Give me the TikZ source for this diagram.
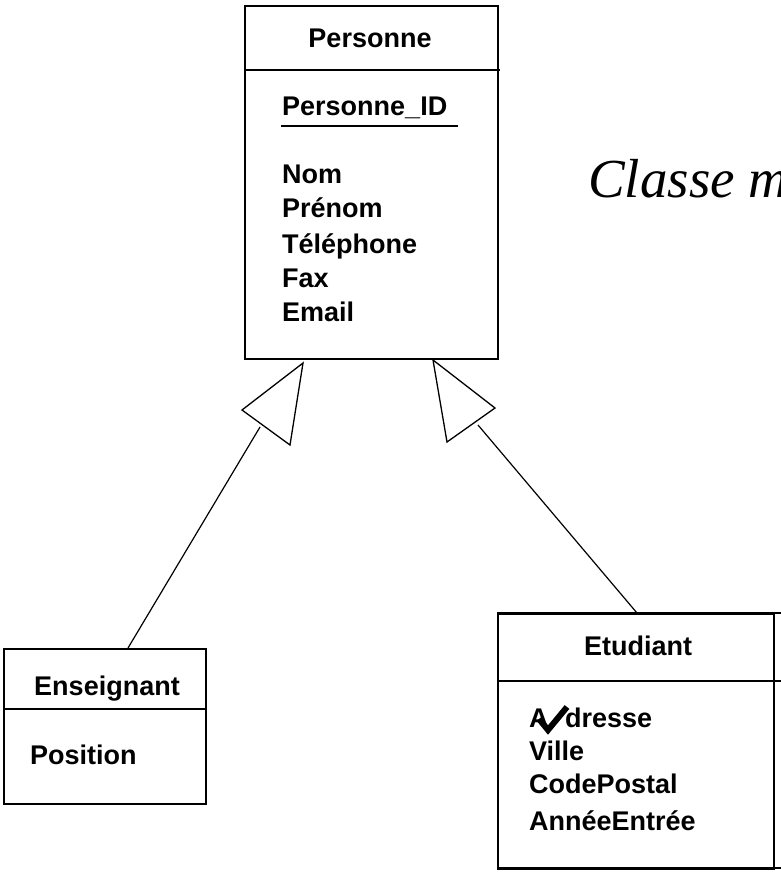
\documentclass[tikz,border=0pt]{standalone}
\usepackage{fontspec}
\setmainfont{Liberation Sans}
\newfontfamily\serifit{Liberation Serif}
\begin{document}
\begin{tikzpicture}[x=1pt,y=-1pt,
  classbox/.style={draw, line width=1.6pt, inner sep=0, anchor=north west},
  rule/.style={line width=1.5pt},
  lbl/.style={anchor=base west, inner sep=0, font=\fontsize{27}{27}\selectfont\bfseries},
  ttl/.style={anchor=base, inner sep=0, font=\fontsize{27}{27}\selectfont\bfseries},
  gen/.style={draw, line width=1.3pt, line join=miter, fill=white},
  link/.style={line width=1.2pt}]
\useasboundingbox (0,0) rectangle (781,873);
\fill[white] (0,0) rectangle (781,873);

% Personne
\node[classbox, minimum width=253pt, minimum height=353pt] (personne) at (244,5) {};
\draw[rule] (244,70) -- (500,70);
\node[ttl] (pname) at (370,47) {Personne};
\node[lbl] (pid) at (282,115) {Personne\_ID};
\draw[line width=1.3pt] (281,126) -- (458,126);
\node[lbl] (pnom) at (282,183) {Nom};
\node[lbl] (pprenom) at (282,217) {Prénom};
\node[lbl] (ptel) at (282,253) {Téléphone};
\node[lbl] (pfax) at (282,287) {Fax};
\node[lbl] (pmail) at (282,321) {Email};

% title (cut by the edge)
\begin{scope}
\clip (0,0) rectangle (781,873);
\node[anchor=base west, inner sep=0, font=\serifit\itshape\fontsize{55}{55}\selectfont] (titre) at (588,197) {Classe m};
\end{scope}

% Enseignant
\node[classbox, minimum width=202pt, minimum height=155pt] (enseignant) at (3,648) {};
\draw[rule] (3,709) -- (205,709);
\node[ttl] (ename) at (107,695) {Enseignant};
\node[lbl] (epos) at (30,764) {Position};

% Etudiant
\node[classbox, minimum width=276pt, minimum height=255pt] (etudiant) at (497,613) {};
\draw[rule] (497,613) -- (781,613);
\draw[rule] (497,681) -- (781,681);
\draw[rule] (497,868) -- (781,868);
\node[ttl] (tname) at (638,655) {Etudiant};
\node[lbl] (tadr) at (529,727) {A\phantom{d}dresse};
\node[lbl] (tville) at (529,760) {Ville};
\node[lbl] (tcp) at (529,793) {CodePostal};
\node[lbl] (tannee) at (529,830) {AnnéeEntrée};
\draw[line width=6pt, line cap=butt, line join=miter] (539,719) -- (548,730) -- (567,707);

% generalisation arrows
\coordinate (la) at (303,363);
\coordinate (lb) at (242,410);
\coordinate (lc) at (290,445);
\coordinate (lfoot) at (260,427);
\coordinate (etop) at (128,648);
\coordinate (ra) at (433,360);
\coordinate (rb) at (495,408);
\coordinate (rc) at (447,442);
\coordinate (rfoot) at (478,425);
\coordinate (ttop) at (637,613);
\draw[link] (lfoot) -- (etop);
\draw[link] (rfoot) -- (ttop);
\draw[gen] (la) -- (lb) -- (lc) -- cycle;
\draw[gen] (ra) -- (rb) -- (rc) -- cycle;
\end{tikzpicture}
\end{document}
